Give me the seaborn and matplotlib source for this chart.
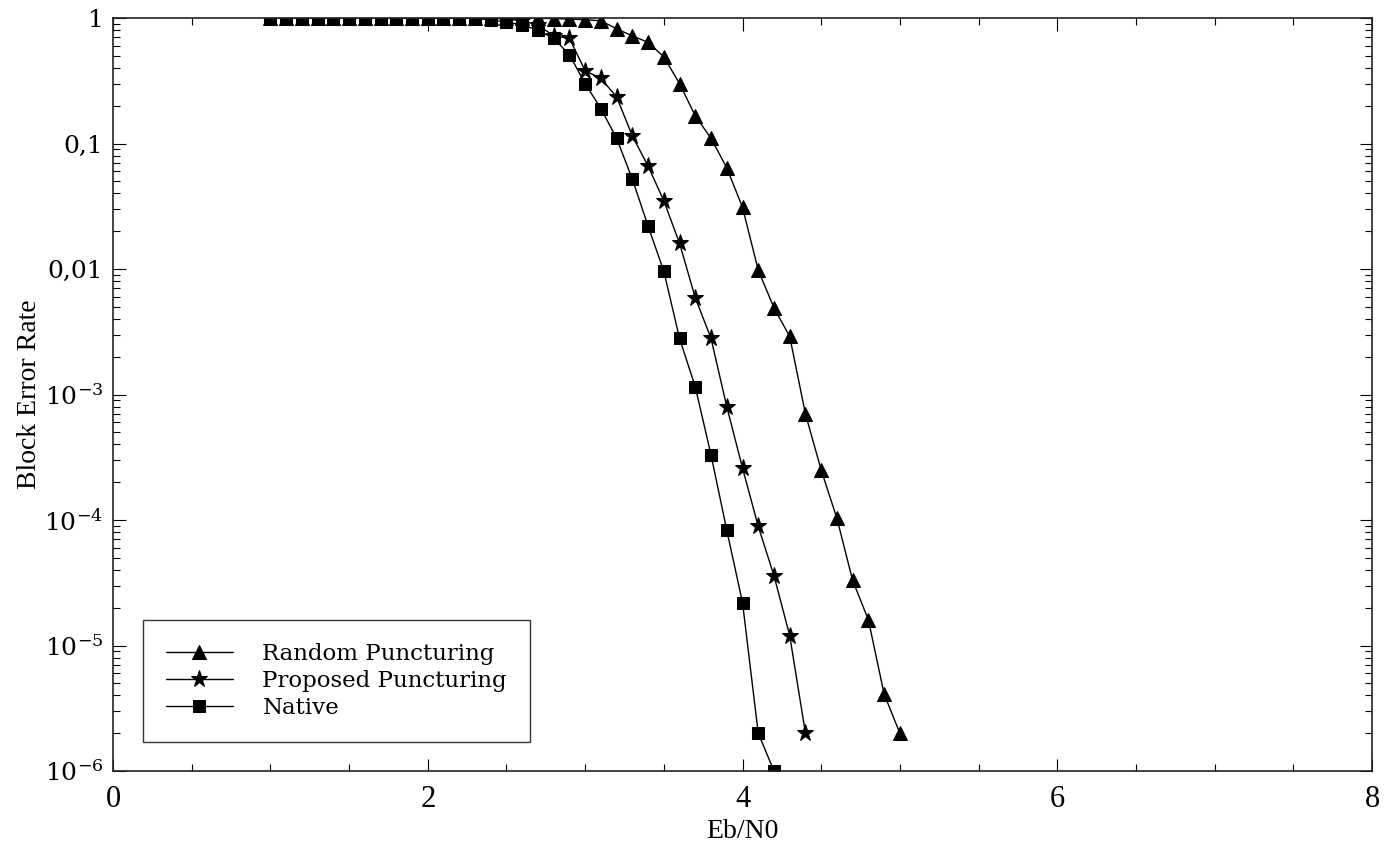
"""
Block error rate vs Eb/N0 for three puncturing schemes. Writes: out.png
"""
import matplotlib
matplotlib.use("Agg")
import matplotlib.pyplot as plt
import matplotlib.ticker as mticker
import pandas as pd
import seaborn as sns

EBN0_RANDOM = [1.0, 1.1, 1.2, 1.3, 1.4, 1.5, 1.6, 1.7, 1.8, 1.9, 2.0, 2.1, 2.2, 2.3,
               2.4, 2.5, 2.6, 2.7, 2.8, 2.9, 3.0, 3.1, 3.2, 3.3, 3.4, 3.5, 3.6,
               3.7, 3.8, 3.9, 4.0, 4.1, 4.2, 4.3, 4.4, 4.5, 4.6, 4.7, 4.8, 4.9, 5.0]
BLER_RANDOM = [1, 1, 1, 1, 1, 1, 1, 1, 1, 1, 1, 1, 1, 1,
               1, 1, 1, 0.995, 0.99, 0.98, 0.97, 0.95, 0.82, 0.72, 0.64, 0.49, 0.30,
               0.166, 0.11, 0.064, 0.031, 0.0098, 0.0049, 0.0029, 7.0e-4, 2.5e-4,
               1.03e-4, 3.3e-5, 1.6e-5, 4.1e-6, 2.0e-6]

EBN0_PROPOSED = [1.0, 1.1, 1.2, 1.3, 1.4, 1.5, 1.6, 1.7, 1.8, 1.9, 2.0, 2.1, 2.2, 2.3,
                 2.4, 2.5, 2.6, 2.7, 2.8, 2.9, 3.0, 3.1, 3.2, 3.3, 3.4, 3.5, 3.6,
                 3.7, 3.8, 3.9, 4.0, 4.1, 4.2, 4.3, 4.4]
BLER_PROPOSED = [1, 1, 1, 1, 1, 1, 1, 1, 1, 1, 1, 1, 1, 1,
                 1, 0.98, 0.95, 0.88, 0.72, 0.69, 0.38, 0.33, 0.235, 0.115, 0.066,
                 0.035, 0.016, 0.0059, 0.0028, 8.0e-4, 2.6e-4, 8.9e-5, 3.6e-5,
                 1.2e-5, 2.0e-6]

EBN0_NATIVE = [1.0, 1.1, 1.2, 1.3, 1.4, 1.5, 1.6, 1.7, 1.8, 1.9, 2.0, 2.1, 2.2, 2.3,
               2.4, 2.5, 2.6, 2.7, 2.8, 2.9, 3.0, 3.1, 3.2, 3.3, 3.4, 3.5, 3.6,
               3.7, 3.8, 3.9, 4.0, 4.1, 4.2]
BLER_NATIVE = [1, 1, 1, 1, 1, 1, 1, 1, 1, 1, 1, 1, 1, 1,
               0.96, 0.93, 0.88, 0.80, 0.69, 0.51, 0.30, 0.19, 0.11, 0.052, 0.022,
               0.0096, 0.0028, 0.00115, 3.3e-4, 8.3e-5, 2.2e-5, 2.0e-6, 1.0e-6]

SERIES = ["Random Puncturing", "Proposed Puncturing", "Native"]
MARKERS = {"Random Puncturing": "^", "Proposed Puncturing": "*", "Native": "s"}
Y_TICKS = [1e-6, 1e-5, 1e-4, 1e-3, 1e-2, 1e-1, 1]
Y_TICK_LABELS = [r"$10^{-6}$", r"$10^{-5}$", r"$10^{-4}$", r"$10^{-3}$",
                 "0,01", "0,1", "1"]
X_TICKS = [0, 2, 4, 6, 8]


def build_frame():
    parts = []
    for name, xs, ys in zip(SERIES,
                            [EBN0_RANDOM, EBN0_PROPOSED, EBN0_NATIVE],
                            [BLER_RANDOM, BLER_PROPOSED, BLER_NATIVE]):
        parts.append(pd.DataFrame({"ebn0": xs, "bler": ys, "scheme": name}))
    return pd.concat(parts, ignore_index=True)


def main():
    sns.set_style("ticks")
    plt.rcParams["font.family"] = ["DejaVu Serif"]
    plt.rcParams["mathtext.fontset"] = "dejavuserif"
    plt.rcParams["text.color"] = "black"
    plt.rcParams["xtick.color"] = "black"
    plt.rcParams["ytick.color"] = "black"
    plt.rcParams["axes.labelcolor"] = "black"

    df = build_frame()
    fig = plt.figure(figsize=(13.96, 8.51), dpi=100)
    ax = fig.add_axes([113 / 1396, 1 - 771 / 851, 1259 / 1396, 753 / 851])

    sns.lineplot(data=df, x="ebn0", y="bler", hue="scheme", style="scheme",
                 hue_order=SERIES, style_order=SERIES,
                 palette=["black"] * 3, markers=MARKERS,
                 dashes=False, linewidth=1.0, markeredgecolor="black",
                 ax=ax, sort=False, estimator=None)
    sizes = [9.5, 12.5, 9]
    for line, ms in zip(ax.lines, sizes):
        line.set_markersize(ms)

    ax.set_yscale("log")
    ax.set_xlim(0, 8)
    ax.set_ylim(1e-6, 1)
    ax.set_yticks(Y_TICKS)
    ax.set_yticklabels(Y_TICK_LABELS)
    ax.yaxis.set_minor_locator(mticker.LogLocator(base=10, subs=range(2, 10)))
    ax.yaxis.set_minor_formatter(mticker.NullFormatter())
    ax.set_xticks(X_TICKS)
    ax.set_xticklabels([str(v) for v in X_TICKS], family="Liberation Serif",
                       fontsize=22)
    ax.xaxis.set_minor_locator(mticker.MultipleLocator(0.5))

    ax.tick_params(axis="both", which="major", direction="in", length=9,
                   width=0.8, top=True, right=True)
    ax.tick_params(axis="both", which="minor", direction="in", length=5,
                   width=0.8, top=True, right=True)
    ax.tick_params(axis="y", labelsize=18, pad=7)
    ax.tick_params(axis="x", pad=10)
    for spine in ax.spines.values():
        spine.set_visible(True)
        spine.set_linewidth(1.2)
        spine.set_color("#222222")

    ax.set_xlabel("Eb/N0", family="Liberation Serif", fontsize=20, va="center")
    ax.xaxis.set_label_coords(0.5, -0.081)
    ax.set_ylabel("Block Error Rate", family="Liberation Serif", fontsize=20,
                  va="center")
    ax.yaxis.set_label_coords(-0.066, 0.5)

    handles, labels = ax.get_legend_handles_labels()
    for h, ms in zip(handles, sizes):
        h.set_markersize(ms)
    leg = ax.legend(handles, labels, loc="lower left",
                    bbox_to_anchor=(0.024, 0.038), borderaxespad=0,
                    fontsize=16.5, frameon=True, fancybox=False,
                    handlelength=2.9, handletextpad=1.3, labelspacing=0.22,
                    borderpad=1.0, title=None)
    leg.get_frame().set_edgecolor("black")
    leg.get_frame().set_linewidth(1.0)

    fig.savefig("out.png", dpi=100)
    plt.close(fig)


if __name__ == "__main__":
    main()
